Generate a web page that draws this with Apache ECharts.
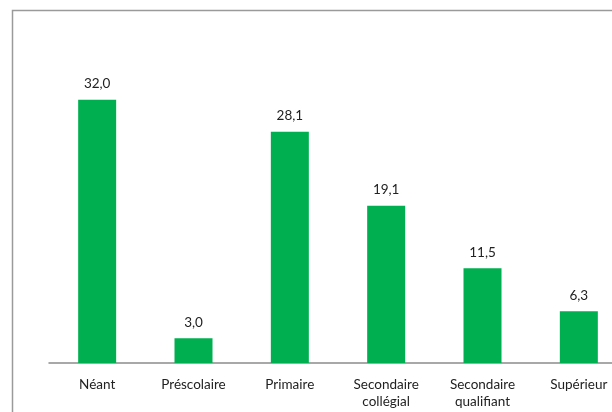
<!DOCTYPE html>
<html><head><meta charset="utf-8">
<script src="https://cdn.jsdelivr.net/npm/echarts@6/dist/echarts.min.js"></script>
<style>html,body{margin:0;padding:0;background:#fff}#c{width:612px;height:412px}</style>
</head><body><div id="c"></div>
<script>
const categories = ['Néant', 'Préscolaire', 'Primaire', 'Secondaire\ncollégial', 'Secondaire\nqualifiant', 'Supérieur'];
const values = [32.0, 3.0, 28.1, 19.1, 11.5, 6.3];

const chart = echarts.init(document.getElementById('c'), null, {renderer: 'canvas'});
chart.setOption({
  animation: false,
  backgroundColor: '#fff',
  grid: {left: 49, width: 578, top: 75, height: 288, containLabel: false, outerBoundsMode: 'none'},
  xAxis: {
    type: 'category', data: categories,
    axisLine: {lineStyle: {color: '#8c8c8c', width: 1.5}},
    axisTick: {show: false},
    axisLabel: {color: '#222', fontFamily: 'Lato', fontSize: 13.5, margin: 13, lineHeight: 17, interval: 0}
  },
  yAxis: {type: 'value', min: 0, max: 35, show: false, splitLine: {show: false}},
  series: [{
    type: 'bar', data: values, barWidth: 38,
    itemStyle: {color: '#00b050'},
    label: {show: true, position: 'top', distance: 9, color: '#222', fontFamily: 'Lato', fontSize: 13.5,
      formatter: p => p.value.toFixed(1).replace('.', ',')}
  }],
  graphic: [{type: 'rect', shape: {x: 12.5, y: 10.5, width: 700, height: 500},
    style: {fill: 'none', stroke: '#9a9a9a', lineWidth: 1.5}, silent: true}]
});
</script></body></html>
